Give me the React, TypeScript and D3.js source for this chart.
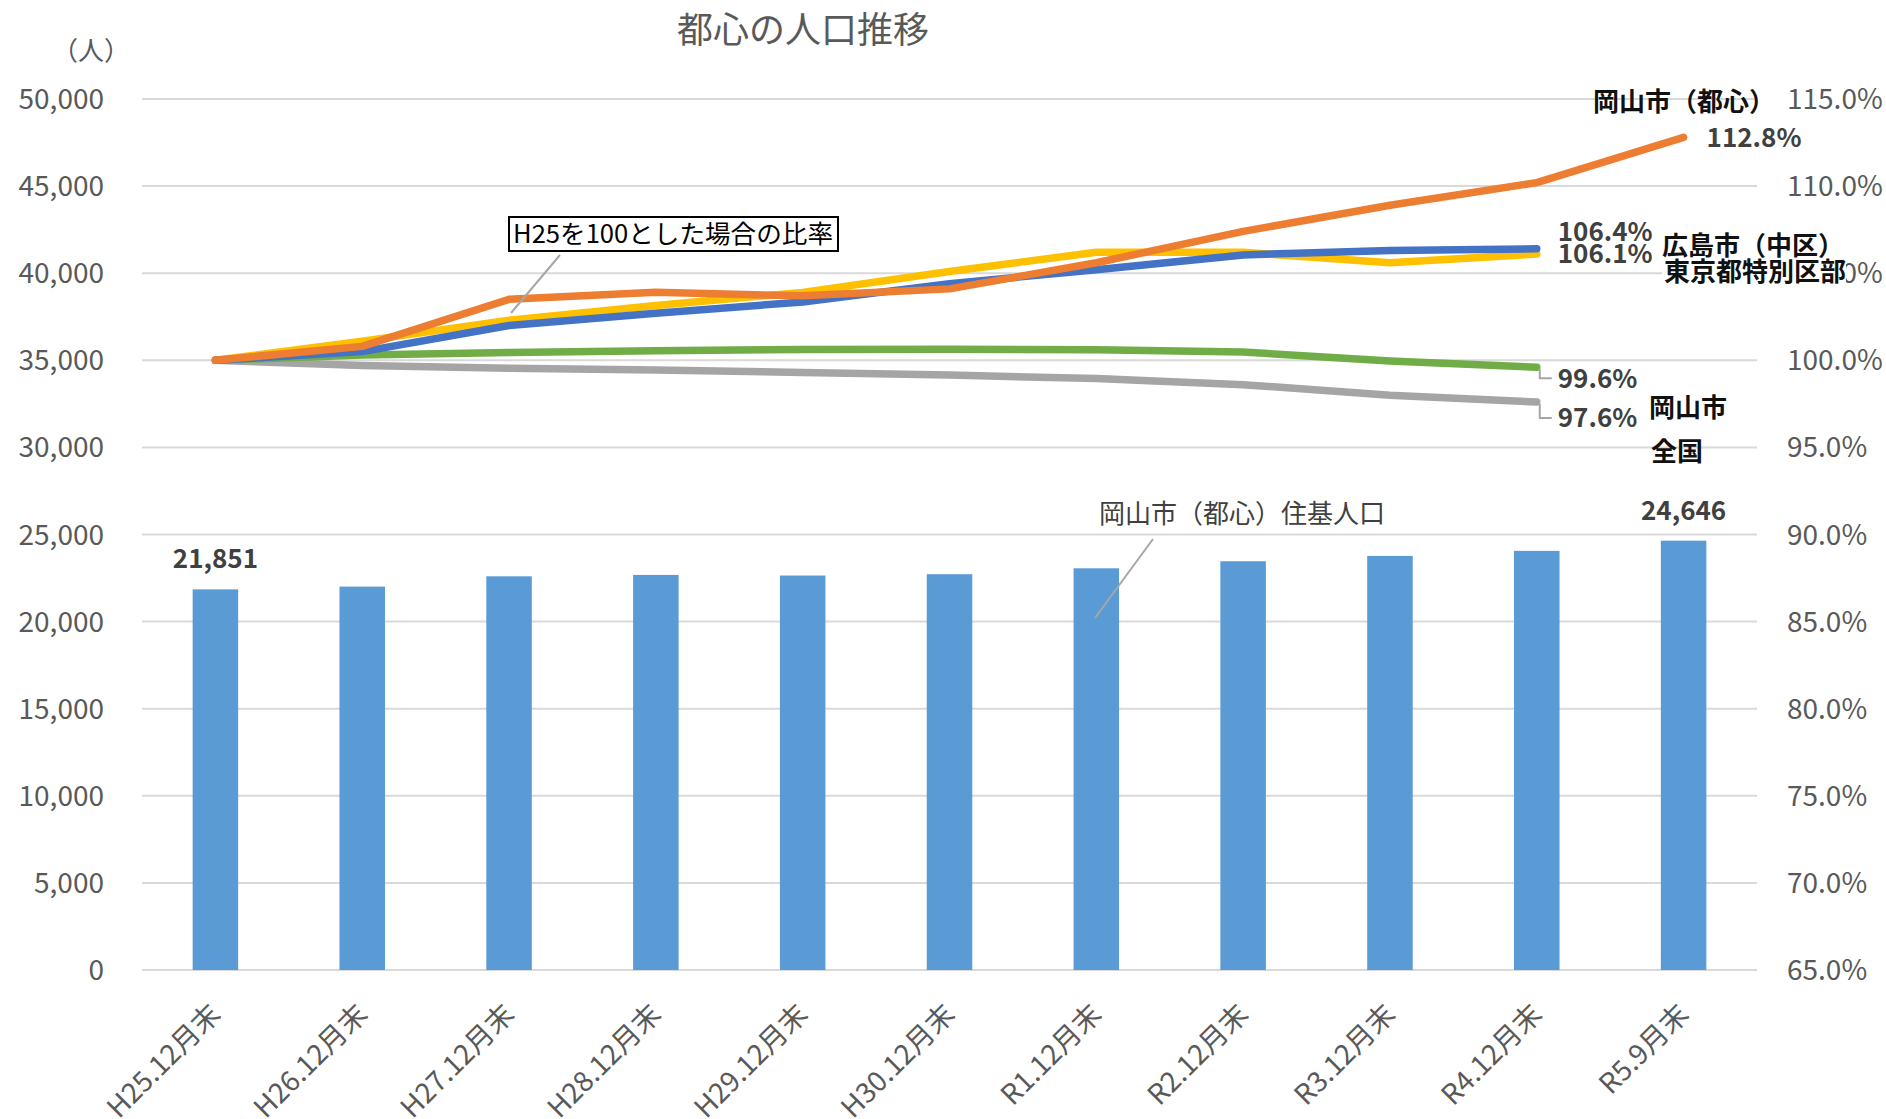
import React from "react";
import * as d3 from "d3";

const categories = ["H25.12月末","H26.12月末","H27.12月末","H28.12月末","H29.12月末","H30.12月末","R1.12月末","R2.12月末","R3.12月末","R4.12月末","R5.9月末"];
const population = [21851, 22010, 22600, 22680, 22645, 22720, 23060, 23465, 23770, 24060, 24646];
const okayamaCenter = [100, 100.8, 103.5, 103.9, 103.7, 104.1, 105.6, 107.4, 108.9, 110.2, 112.8];
const hiroshimaNaka = [100, 100.5, 102.0, 102.7, 103.35, 104.4, 105.2, 106.05, 106.3, 106.4];
const tokyoWards = [100, 101.1, 102.3, 103.15, 103.9, 105.1, 106.2, 106.2, 105.6, 106.1];
const okayamaCity = [100, 100.3, 100.45, 100.55, 100.62, 100.63, 100.6, 100.47, 99.96, 99.6];
const nationwide = [100, 99.7, 99.55, 99.45, 99.3, 99.15, 98.95, 98.6, 98.0, 97.6];
const leftTicks = [0, 5000, 10000, 15000, 20000, 25000, 30000, 35000, 40000, 45000, 50000];
const rightTicks = [65, 70, 75, 80, 85, 90, 95, 100, 105, 110, 115];

const W = 1886, H = 1119;
const X0 = 142, X1 = 1757, Y0 = 970, Y1 = 99;
const JP = "'Noto Sans CJK JP', 'Noto Sans', sans-serif";
const GRAY = "#595959";
const DARK = "#404040";

export default function App() {
  const x = d3.scaleBand<string>().domain(categories).range([X0, X1]).padding(0);
  const cx = (i: number) => (x(categories[i]) as number) + x.bandwidth() / 2;
  const yL = d3.scaleLinear().domain([0, 50000]).range([Y0, Y1]);
  const yR = d3.scaleLinear().domain([65, 115]).range([Y0, Y1]);
  const barW = x.bandwidth() * 0.31;
  const line = d3.line<number>().x((_, i) => cx(i)).y((d) => yR(d));

  const series = [
    { data: nationwide, color: "#A5A5A5" },
    { data: okayamaCity, color: "#70AD47" },
    { data: tokyoWards, color: "#FFC000" },
    { data: hiroshimaNaka, color: "#4472C4" },
    { data: okayamaCenter, color: "#ED7D31" },
  ];

  const last = (a: number[]) => a[a.length - 1];
  const endX = (a: number[]) => cx(a.length - 1);
  const pct = (v: number) => `${v.toFixed(1)}%`;

  const leader = (a: number[], labelCy: number) => {
    const ex = endX(a) + 3;
    const ey = yR(last(a)) + 2;
    return `M${ex},${ey}L${ex},${labelCy}L${ex + 12},${labelCy}`;
  };

  return (
    <svg width={W} height={H} style={{ position: "absolute", left: 0, top: 0, background: "#fff" }} fontFamily={JP}>
      <rect x={0} y={0} width={W} height={H} fill="#fff" />
      {/* title */}
      <text x={803} y={43} textAnchor="middle" fontSize={36} fill={GRAY}>都心の人口推移</text>
      <text x={91} y={60} textAnchor="middle" fontSize={26} fill={GRAY}>（人）</text>

      {/* gridlines */}
      {leftTicks.map((t) => (
        <line key={t} x1={X0} x2={X1} y1={yL(t)} y2={yL(t)} stroke="#D9D9D9" strokeWidth={2} />
      ))}
      {leftTicks.map((t) => (
        <text key={"l" + t} x={104} y={yL(t)} dy="0.36em" textAnchor="end" fontSize={28} fill={GRAY}>{d3.format(",")(t)}</text>
      ))}
      {rightTicks.map((t) => (
        <text key={"r" + t} x={1787} y={yR(t)} dy="0.36em" textAnchor="start" fontSize={28} fill={GRAY}>{t.toFixed(1)}%</text>
      ))}

      {/* bars */}
      {population.map((v, i) => (
        <rect key={i} x={cx(i) - barW / 2} y={yL(v)} width={barW} height={Y0 - yL(v)} fill="#5B9BD5" />
      ))}
      {[0, population.length - 1].map((i) => (
        <text key={"bl" + i} x={cx(i)} y={yL(population[i]) - 21} textAnchor="middle" fontSize={26} fontWeight="bold" fill={DARK}>{d3.format(",")(population[i])}</text>
      ))}

      {/* lines */}
      {series.map((s, k) => (
        <path key={k} d={line(s.data) as string} fill="none" stroke={s.color} strokeWidth={7.5} strokeLinecap="round" strokeLinejoin="round" />
      ))}

      {/* x labels */}
      {categories.map((c, i) => (
        <text key={c} transform={`translate(${cx(i) + 7},${1016}) rotate(-45)`} textAnchor="end" fontSize={28} fill={GRAY}>{c}</text>
      ))}

      {/* value labels */}
      <text x={endX(okayamaCenter) + 23} y={yR(last(okayamaCenter))} dy="0.36em" fontSize={26} fontWeight="bold" fill={DARK}>{pct(last(okayamaCenter))}</text>
      <text x={endX(hiroshimaNaka) + 21} y={yR(last(hiroshimaNaka)) - 17} dy="0.36em" fontSize={26} fontWeight="bold" fill={DARK}>{pct(last(hiroshimaNaka))}</text>
      <text x={endX(tokyoWards) + 21} y={yR(last(tokyoWards))} dy="0.36em" fontSize={26} fontWeight="bold" fill={DARK}>{pct(last(tokyoWards))}</text>
      <text x={endX(okayamaCity) + 21} y={yR(last(okayamaCity)) + 11} dy="0.36em" fontSize={26} fontWeight="bold" fill={DARK}>{pct(last(okayamaCity))}</text>
      <text x={endX(nationwide) + 21} y={yR(last(nationwide)) + 16} dy="0.36em" fontSize={26} fontWeight="bold" fill={DARK}>{pct(last(nationwide))}</text>
      <path d={leader(okayamaCity, yR(last(okayamaCity)) + 11)} fill="none" stroke="#A6A6A6" strokeWidth={2} />
      <path d={leader(nationwide, yR(last(nationwide)) + 16)} fill="none" stroke="#A6A6A6" strokeWidth={2} />

      {/* series name labels */}
      <text x={1593} y={111} fontSize={26} fontWeight="bold" fill="#111">岡山市（都心）</text>
      <text x={1662} y={255} fontSize={26} fontWeight="bold" fill="#111">広島市（中区）</text>
      <rect x={1662} y={259} width={184} height={26} fill="#fff" />
      <text x={1664} y={281} fontSize={26} fontWeight="bold" fill="#111">東京都特別区部</text>
      <text x={1649} y={417} fontSize={26} fontWeight="bold" fill="#111">岡山市</text>
      <text x={1651} y={461} fontSize={26} fontWeight="bold" fill="#111">全国</text>

      {/* callouts */}
      <line x1={560} y1={255} x2={511} y2={313} stroke="#A6A6A6" strokeWidth={2} />
      <rect x={509} y={217} width={329} height={34} fill="#fff" stroke="#000" strokeWidth={2} />
      <text x={513} y={243} fontSize={25} fill="#000" textLength={320} lengthAdjust="spacingAndGlyphs">H25を100とした場合の比率</text>

      <line x1={1153} y1={539} x2={1095} y2={618} stroke="#A6A6A6" strokeWidth={2} />
      <text x={1099} y={523} fontSize={26} fill={DARK}>岡山市（都心）住基人口</text>
    </svg>
  );
}
